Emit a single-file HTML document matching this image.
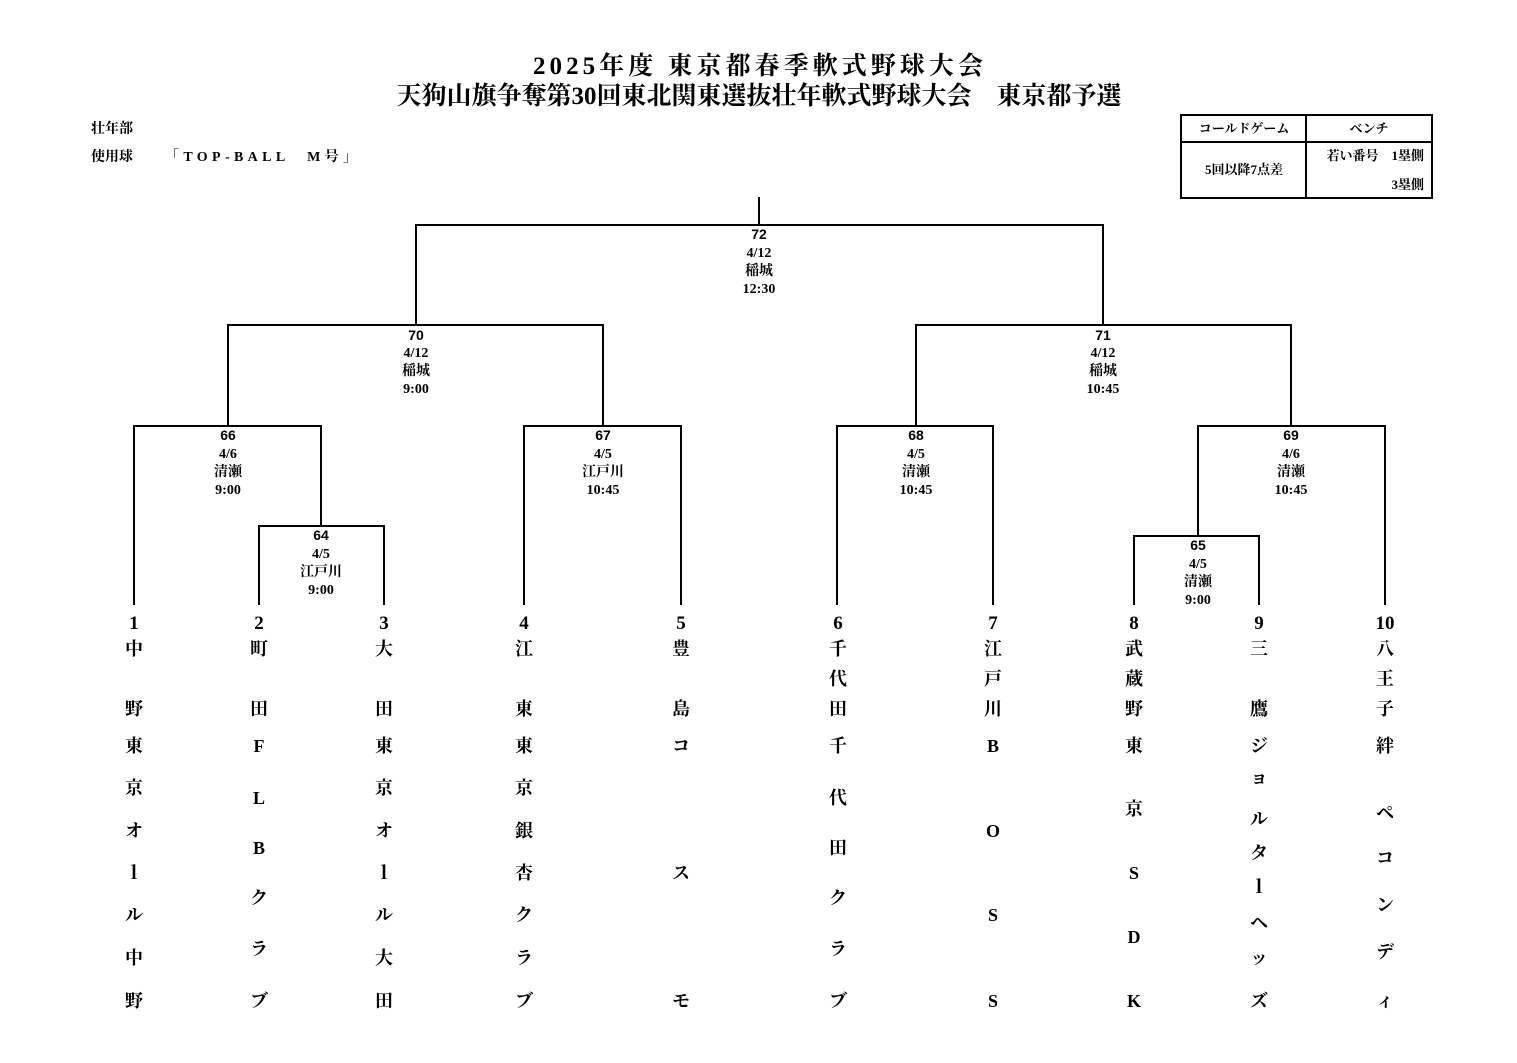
<!DOCTYPE html>
<html><head><meta charset="utf-8"><style>
html,body{margin:0;padding:0;background:#fff;}
svg{display:block;}
text{font-family:"Liberation Serif","Noto Serif CJK JP",serif;font-weight:bold;fill:#000;}
.s{font-size:14px;text-anchor:middle;}
.n{font-size:14px;text-anchor:middle;font-family:"Liberation Sans","Noto Sans CJK JP",sans-serif;}
.t{font-size:19px;text-anchor:middle;}
</style></head><body>
<svg width="1517" height="1063" viewBox="0 0 1517 1063">
<text x="533" y="74" font-size="25" textLength="450" lengthAdjust="spacing">2025年度 東京都春季軟式野球大会</text>
<text x="759" y="104" font-size="25" text-anchor="middle">天狗山旗争奪第30回東北関東選抜壮年軟式野球大会　東京都予選</text>
<text x="91" y="133" font-size="14">壮年部</text>
<text x="91" y="161" font-size="14">使用球</text>
<text x="165" y="161" font-size="14" textLength="192" lengthAdjust="spacing">「TOP-BALL　M号」</text>
<g fill="none" stroke="#000" stroke-width="2">
<rect x="1181" y="115" width="251" height="83"/>
<line x1="1181" y1="142" x2="1432" y2="142"/>
<line x1="1306" y1="115" x2="1306" y2="198"/>
</g>
<text x="1244" y="133" font-size="13" text-anchor="middle">コールドゲーム</text>
<text x="1369" y="133" font-size="13" text-anchor="middle">ベンチ</text>
<text x="1244" y="174" font-size="13" text-anchor="middle">5回以降7点差</text>
<text x="1424" y="160" font-size="13" text-anchor="end">若い番号　1塁側</text>
<text x="1424" y="189" font-size="13" text-anchor="end">3塁側</text>
<g fill="none" stroke="#000" stroke-width="2">
<line x1="759" y1="197" x2="759" y2="225"/>
<polyline points="416,325 416,225 1103,225 1103,325"/>
<polyline points="228,426 228,325 603,325 603,426"/>
<polyline points="916,426 916,325 1291,325 1291,426"/>
<polyline points="134,605 134,426 321,426 321,526"/>
<polyline points="259,605 259,526 384,526 384,605"/>
<polyline points="524,605 524,426 681,426 681,605"/>
<polyline points="837,605 837,426 993,426 993,605"/>
<polyline points="1198,536 1198,426 1385,426 1385,605"/>
<polyline points="1134,605 1134,536 1259,536 1259,605"/>
</g>
<g class="s">
<text class="n" x="759" y="239">72</text><text class="s" x="759" y="257">4/12</text><text class="s" x="759" y="275">稲城</text><text class="s" x="759" y="293">12:30</text>
<text class="n" x="416" y="340">70</text><text class="s" x="416" y="357">4/12</text><text class="s" x="416" y="375">稲城</text><text class="s" x="416" y="393">9:00</text>
<text class="n" x="1103" y="340">71</text><text class="s" x="1103" y="357">4/12</text><text class="s" x="1103" y="375">稲城</text><text class="s" x="1103" y="393">10:45</text>
<text class="n" x="228" y="440">66</text><text class="s" x="228" y="458">4/6</text><text class="s" x="228" y="476">清瀬</text><text class="s" x="228" y="494">9:00</text>
<text class="n" x="603" y="440">67</text><text class="s" x="603" y="458">4/5</text><text class="s" x="603" y="476">江戸川</text><text class="s" x="603" y="494">10:45</text>
<text class="n" x="916" y="440">68</text><text class="s" x="916" y="458">4/5</text><text class="s" x="916" y="476">清瀬</text><text class="s" x="916" y="494">10:45</text>
<text class="n" x="1291" y="440">69</text><text class="s" x="1291" y="458">4/6</text><text class="s" x="1291" y="476">清瀬</text><text class="s" x="1291" y="494">10:45</text>
<text class="n" x="321" y="540">64</text><text class="s" x="321" y="558">4/5</text><text class="s" x="321" y="576">江戸川</text><text class="s" x="321" y="594">9:00</text>
<text class="n" x="1198" y="550">65</text><text class="s" x="1198" y="568">4/5</text><text class="s" x="1198" y="586">清瀬</text><text class="s" x="1198" y="604">9:00</text>
</g>
<g class="t">
<text class="t" x="134" y="629">1</text><text class="t" x="259" y="629">2</text><text class="t" x="384" y="629">3</text><text class="t" x="524" y="629">4</text><text class="t" x="681" y="629">5</text><text class="t" x="838" y="629">6</text><text class="t" x="993" y="629">7</text><text class="t" x="1134" y="629">8</text><text class="t" x="1259" y="629">9</text><text class="t" x="1385" y="629">10</text>
</g>
<g font-size="18" text-anchor="middle">
<text x="134" y="655">中</text><text x="134" y="715">野</text><text x="134" y="752">東</text><text x="134" y="794">京</text><text x="134" y="837">オ</text><text x="134" y="879">ｌ</text><text x="134" y="921">ル</text><text x="134" y="964">中</text><text x="134" y="1007">野</text>
<text x="259" y="655">町</text><text x="259" y="715">田</text><text x="259" y="752">F</text><text x="259" y="804">L</text><text x="259" y="854">B</text><text x="259" y="904">ク</text><text x="259" y="955">ラ</text><text x="259" y="1007">ブ</text>
<text x="384" y="655">大</text><text x="384" y="715">田</text><text x="384" y="752">東</text><text x="384" y="794">京</text><text x="384" y="837">オ</text><text x="384" y="879">ｌ</text><text x="384" y="921">ル</text><text x="384" y="964">大</text><text x="384" y="1007">田</text>
<text x="524" y="655">江</text><text x="524" y="715">東</text><text x="524" y="752">東</text><text x="524" y="794">京</text><text x="524" y="837">銀</text><text x="524" y="879">杏</text><text x="524" y="921">ク</text><text x="524" y="964">ラ</text><text x="524" y="1007">ブ</text>
<text x="681" y="655">豊</text><text x="681" y="715">島</text><text x="681" y="752">コ</text><text x="681" y="879">ス</text><text x="681" y="1007">モ</text>
<text x="838" y="655">千</text><text x="838" y="685">代</text><text x="838" y="715">田</text><text x="838" y="752">千</text><text x="838" y="804">代</text><text x="838" y="854">田</text><text x="838" y="904">ク</text><text x="838" y="955">ラ</text><text x="838" y="1007">ブ</text>
<text x="993" y="655">江</text><text x="993" y="685">戸</text><text x="993" y="715">川</text><text x="993" y="752">B</text><text x="993" y="837">O</text><text x="993" y="921">S</text><text x="993" y="1007">S</text>
<text x="1134" y="655">武</text><text x="1134" y="685">蔵</text><text x="1134" y="715">野</text><text x="1134" y="752">東</text><text x="1134" y="815">京</text><text x="1134" y="879">S</text><text x="1134" y="943">D</text><text x="1134" y="1007">K</text>
<text x="1259" y="655">三</text><text x="1259" y="715">鷹</text><text x="1259" y="752">ジ</text><text x="1259" y="784">ョ</text><text x="1259" y="825">ル</text><text x="1259" y="859">タ</text><text x="1259" y="893">ｌ</text><text x="1259" y="929">ヘ</text><text x="1259" y="964">ッ</text><text x="1259" y="1007">ズ</text>
<text x="1385" y="655">八</text><text x="1385" y="685">王</text><text x="1385" y="715">子</text><text x="1385" y="752">絆</text><text x="1385" y="819">ペ</text><text x="1385" y="864">コ</text><text x="1385" y="911">ン</text><text x="1385" y="958">デ</text><text x="1385" y="1007">ィ</text>
</g>
</svg>
</body></html>
